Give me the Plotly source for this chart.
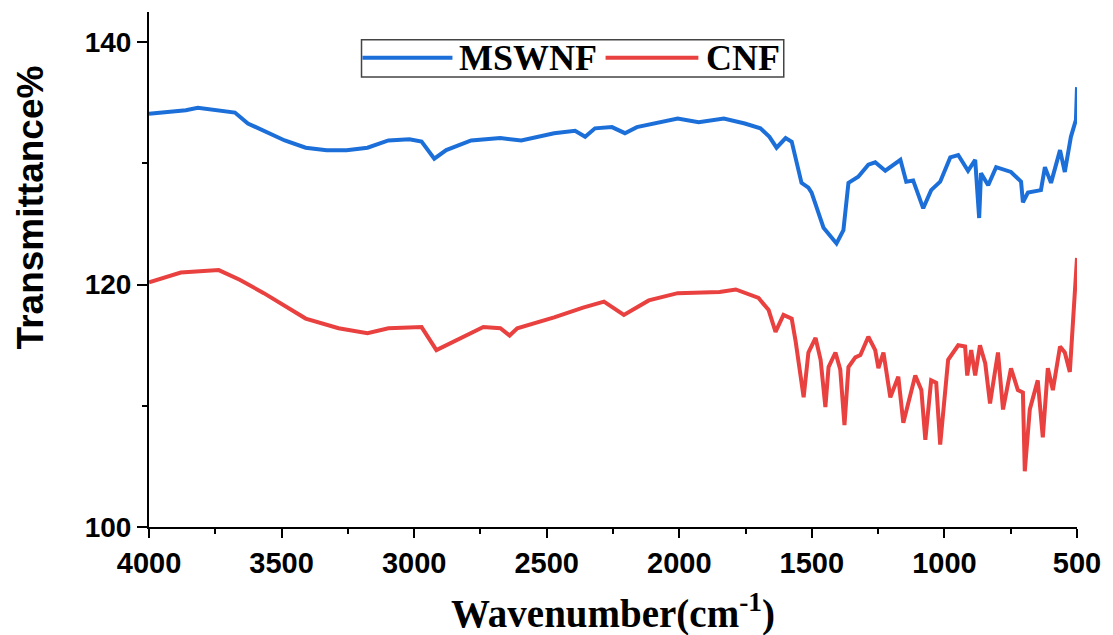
import plotly.graph_objects as go

# ---------------- data ----------------
mswnf_wn = [4000, 3940, 3861, 3816, 3737, 3676, 3627, 3567, 3488, 3409, 3330, 3255, 3176, 3097,
            3018, 2972, 2924, 2879, 2785, 2675, 2596, 2472, 2393, 2355, 2318, 2254, 2205, 2160,
            2081, 2006, 1927, 1832, 1753, 1694, 1660, 1633, 1599, 1576, 1539, 1513, 1501, 1456,
            1407, 1381, 1362, 1325, 1287, 1261, 1223, 1166, 1144, 1118, 1080, 1050, 1016, 978,
            948, 911, 884, 875, 869, 862, 835, 805, 749, 711, 704, 685, 636, 621, 598, 564, 546,
            523, 504, 500]
mswnf_t = [134.1, 134.2, 134.4, 134.6, 134.4, 134.2, 133.3, 132.7, 131.9, 131.3, 131.1, 131.1, 131.3, 131.9,
           132.0, 131.8, 130.4, 131.1, 131.9, 132.1, 131.9, 132.5, 132.7, 132.2, 132.9, 133.0, 132.5, 133.0,
           133.4, 133.7, 133.4, 133.7, 133.3, 132.9, 132.2, 131.3, 132.1, 131.8, 128.4, 128.0, 127.6, 124.7,
           123.4, 124.5, 128.4, 128.9, 129.9, 130.1, 129.4, 130.3, 128.5, 128.6, 126.3, 127.8, 128.5, 130.5,
           130.7, 129.4, 130.3, 128.0, 125.5, 129.2, 128.2, 129.7, 129.3, 128.5, 126.8, 127.6, 127.8, 129.7, 128.4, 131.1, 129.3,
           132.2, 133.6, 136.3]

cnf_wn = [4000, 3880, 3737, 3658, 3567, 3409, 3285, 3176, 3097, 2972, 2916, 2849, 2739, 2675, 2640,
          2611, 2472, 2363, 2284, 2209, 2115, 2006, 1848, 1787, 1701, 1663, 1637, 1607, 1576, 1561,
          1531, 1513, 1486, 1467, 1449, 1437, 1411, 1393, 1377, 1362, 1336, 1317, 1287, 1261, 1249,
          1230, 1204, 1174, 1155, 1110, 1087, 1072, 1050, 1031, 1016, 986, 948, 922, 914, 899, 884,
          866, 846, 828, 798, 779, 749, 723, 704, 697, 678, 648, 629, 610, 591, 564, 546, 527, 516,
          504, 500]
cnf_t = [120.2, 121.0, 121.2, 120.4, 119.3, 117.2, 116.4, 116.0, 116.4, 116.5, 114.6, 115.3, 116.5, 116.4, 115.8,
         116.4, 117.3, 118.1, 118.6, 117.5, 118.7, 119.3, 119.4, 119.6, 118.9, 117.9, 116.1, 117.5, 117.2, 115.3,
         110.7, 114.4, 115.6, 113.8, 109.9, 113.2, 114.4, 113.0, 108.4, 113.2, 114.0, 114.2, 115.7, 114.6, 113.1,
         114.4, 110.7, 112.4, 108.6, 112.5, 111.3, 107.2, 112.1, 111.9, 106.8, 113.8, 115.0, 114.9, 112.5, 114.6, 112.5,
         115.0, 113.5, 110.2, 114.4, 109.7, 113.1, 111.3, 111.1, 104.6, 109.7, 112.1, 107.4, 113.1, 111.3, 114.9, 114.4, 112.8, 116.5,
         120.4, 122.2]

x_ticks = [4000, 3500, 3000, 2500, 2000, 1500, 1000, 500]
y_ticks = [100, 120, 140]
series_names = ["MSWNF", "CNF"]
series_colors = ["#1c6fd8", "#e8413f"]

# ---------------- figure ----------------
fig = go.Figure()
fig.add_trace(go.Scatter(x=mswnf_wn, y=mswnf_t, mode="lines", name=series_names[0],
                         line=dict(color=series_colors[0], width=4), showlegend=False))
fig.add_trace(go.Scatter(x=cnf_wn, y=cnf_t, mode="lines", name=series_names[1],
                         line=dict(color=series_colors[1], width=4), showlegend=False))

fig.update_layout(
    width=1113, height=635,
    margin=dict(l=149, r=34, t=12, b=108),
    plot_bgcolor="white", paper_bgcolor="white",
    xaxis=dict(range=[4000, 500], autorange=False, tickvals=x_ticks,
               ticks="outside", ticklen=9, tickwidth=2, tickcolor="black",
               showline=True, linecolor="black", linewidth=2, showgrid=False, zeroline=False,
               minor=dict(dtick=250, tick0=0, ticks="outside", ticklen=5, tickwidth=2, tickcolor="black"),
               tickfont=dict(family="Liberation Sans", size=29, color="black", weight="bold")),
    yaxis=dict(range=[100, 142.5], autorange=False, tickvals=y_ticks,
               ticks="outside", ticklen=10, tickwidth=2, tickcolor="black",
               showline=True, linecolor="black", linewidth=2, showgrid=False, zeroline=False,
               minor=dict(dtick=10, tick0=0, ticks="outside", ticklen=5, tickwidth=2, tickcolor="black"),
               tickfont=dict(family="Liberation Sans", size=28, color="black", weight="bold")),
)

# axis titles
fig.add_annotation(text="Transmittance%", xref="paper", yref="paper", x=-0.128, y=0.621,
                   textangle=-90, showarrow=False, xanchor="center", yanchor="middle",
                   font=dict(family="Liberation Sans", size=37, color="black", weight="bold"))
fig.add_annotation(text="Wavenumber(cm<sup>-1</sup>)", xref="paper", yref="paper", x=0.5, y=-0.165,
                   showarrow=False, xanchor="center", yanchor="middle",
                   font=dict(family="Liberation Serif", size=39, color="black", weight="bold"))

# legend (box, sample lines, labels)
fig.add_shape(type="rect", xref="paper", yref="paper", x0=0.229, x1=0.684, y0=0.874, y1=0.946,
              line=dict(color="#444", width=1.5), fillcolor="white", layer="above")
fig.add_shape(type="line", xref="paper", yref="paper", x0=0.230, x1=0.327, y0=0.911, y1=0.911,
              line=dict(color=series_colors[0], width=4), layer="above")
fig.add_shape(type="line", xref="paper", yref="paper", x0=0.492, x1=0.592, y0=0.911, y1=0.911,
              line=dict(color=series_colors[1], width=4), layer="above")
fig.add_annotation(text=series_names[0], xref="paper", yref="paper", x=0.332, y=0.911,
                   showarrow=False, xanchor="left", yanchor="middle",
                   font=dict(family="Liberation Serif", size=36, color="black", weight="bold"))
fig.add_annotation(text=series_names[1], xref="paper", yref="paper", x=0.598, y=0.911,
                   showarrow=False, xanchor="left", yanchor="middle",
                   font=dict(family="Liberation Serif", size=36, color="black", weight="bold"))

fig.write_html("out.html")
